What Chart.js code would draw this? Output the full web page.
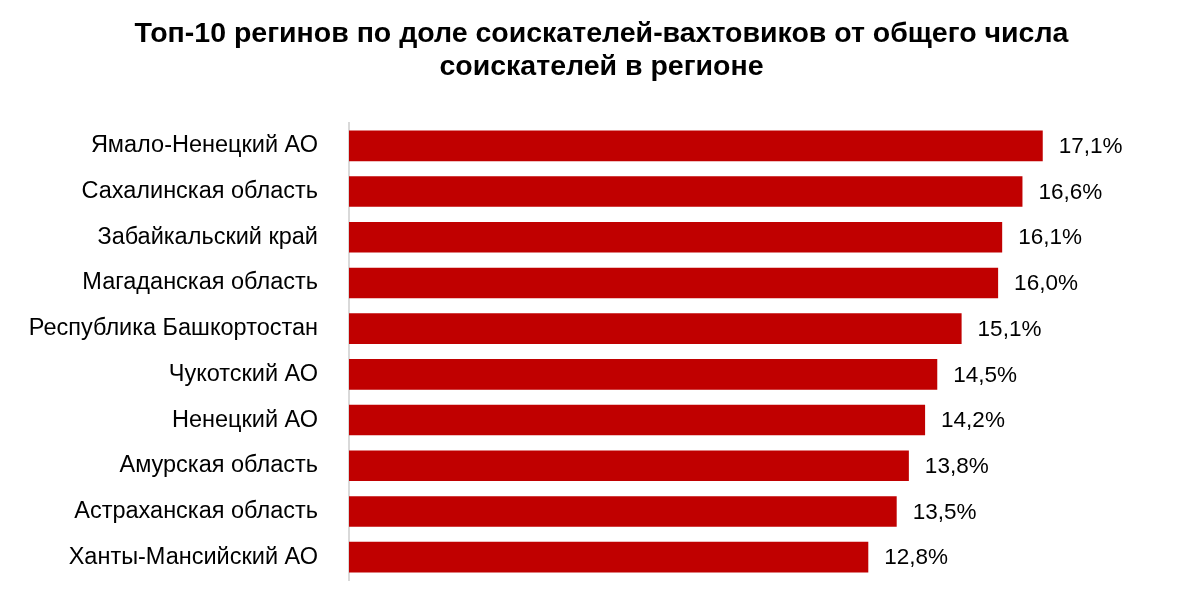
<!DOCTYPE html>
<html>
<head>
<meta charset="utf-8">
<script src="https://cdn.jsdelivr.net/npm/chart.js@4"></script>
<style>
  html, body { margin: 0; padding: 0; background: #fff; }
  #wrap { width: 1203px; height: 606px; }
</style>
</head>
<body>
<div id="wrap"><canvas id="vahta"></canvas></div>
<script>
  const regions = [
    'Ямало-Ненецкий АО',
    'Сахалинская область',
    'Забайкальский край',
    'Магаданская область',
    'Республика Башкортостан',
    'Чукотский АО',
    'Ненецкий АО',
    'Амурская область',
    'Астраханская область',
    'Ханты-Мансийский АО'
  ];

  const shares = [17.1, 16.6, 16.1, 16.0, 15.1, 14.5, 14.2, 13.8, 13.5, 12.8];

  const titleLines = [
    'Топ-10 регинов по доле соискателей-вахтовиков от общего числа',
    'соискателей в регионе'
  ];

  // labels at the end of each bar, like excel data labels
  const barLabels = {
    id: 'barLabels',
    afterDatasetsDraw(chart) {
      const ctx = chart.ctx;
      const meta = chart.getDatasetMeta(0);
      ctx.save();
      ctx.font = '22.5px "Liberation Sans", Arial, sans-serif';
      ctx.fillStyle = '#000';
      ctx.textAlign = 'left';
      ctx.textBaseline = 'middle';
      meta.data.forEach((bar, i) => {
        const txt = shares[i].toFixed(1).replace('.', ',') + '%';
        ctx.fillText(txt, bar.x + 16, bar.y + 1);
      });
      ctx.restore();
    }
  };

  const dataVahta = {
    labels: regions,
    datasets: [{
      data: shares,
      backgroundColor: '#c00000',
      barPercentage: 0.67,
      categoryPercentage: 1.0
    }]
  };

  const configVahta = {
    type: 'bar',
    data: dataVahta,
    plugins: [barLabels],
    options: {
      indexAxis: 'y',
      responsive: true,
      maintainAspectRatio: false,
      animation: false,
      layout: { padding: { left: 0, right: 0, bottom: 26 } },
      plugins: {
        legend: { display: false },
        tooltip: { enabled: false },
        title: {
          display: true,
          text: titleLines,
          color: '#000',
          font: { family: '"Liberation Sans", Arial, sans-serif', size: 28.5, weight: 'bold', lineHeight: '33px' },
          padding: { top: 18, bottom: 39 }
        }
      },
      scales: {
        x: {
          display: false,
          min: 0,
          max: 21.05
        },
        y: {
          afterFit(scale) {
            scale.width = 349;
            scale.paddingTop = 0;
            scale.paddingBottom = 0;
          },
          grid: { display: false, drawTicks: false },
          border: { display: true, color: '#d9d9d9', width: 2 },
          ticks: {
            color: '#000',
            padding: 31,
            font: { family: '"Liberation Sans", Arial, sans-serif', size: 23.5 }
          }
        }
      }
    }
  };

  const chartVahta = new Chart(document.getElementById('vahta'), configVahta);
</script>
</body>
</html>
